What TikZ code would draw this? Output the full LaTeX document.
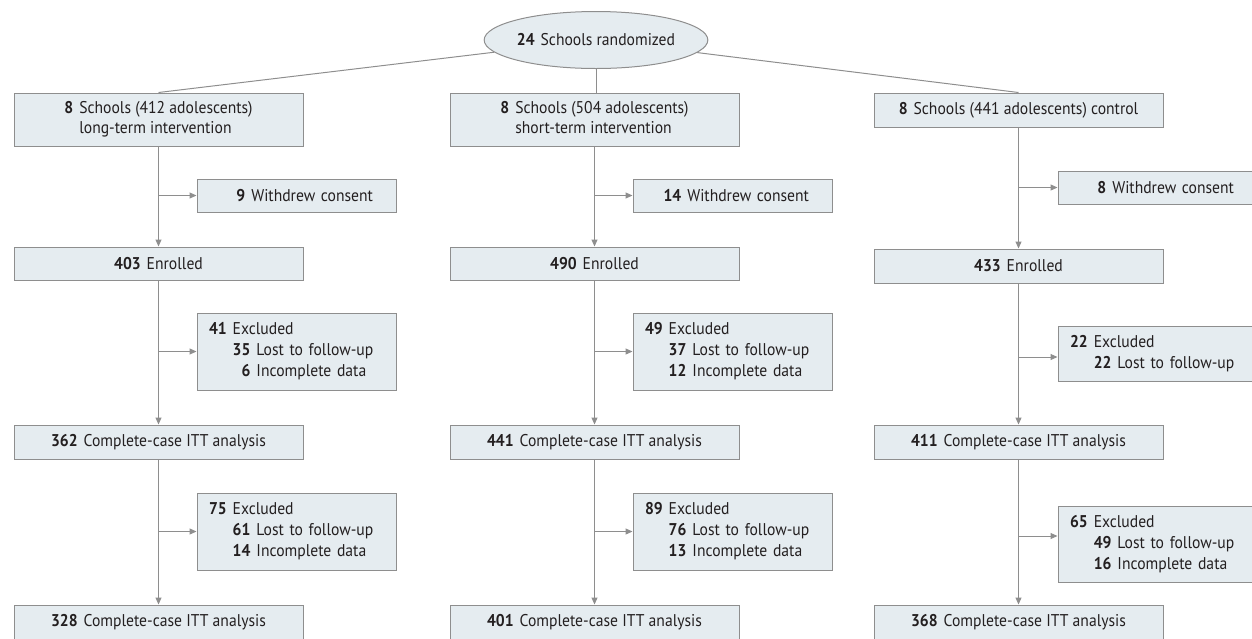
\documentclass[tikz,border=0pt]{standalone}
\usepackage{fontspec}
\setmainfont{PT Sans}[FakeStretch=0.92]
\usetikzlibrary{arrows.meta,shapes.geometric}
\definecolor{boxfill}{HTML}{E5ECF0}
\definecolor{boxline}{HTML}{8E8E8E}
\definecolor{txt}{HTML}{231F20}
\newcommand{\nm}[1]{\textbf{#1}\hspace{6pt}}
\newcommand{\twoline}[3]{\begin{tabular}{@{}r@{\hspace{6pt}}l@{}}\textbf{#1}&#2\\&#3\end{tabular}}
\tikzset{
  base/.style={draw=boxline, fill=boxfill, line width=1pt, text=txt, font=\fontsize{17}{19.5}\selectfont},
  mainbox/.style={base, rectangle, inner sep=0pt, minimum width=289pt, minimum height=34pt},
  exbox/.style={base, rectangle, inner ysep=0pt, inner xsep=12pt, text width=175pt, align=left, minimum height=77pt},
  wbox/.style={base, rectangle, inner ysep=0pt, inner xsep=23pt, text width=153pt, align=right, minimum height=33pt},
  ovalbox/.style={base, ellipse, inner sep=0pt, minimum width=204pt, minimum height=57pt},
  conn/.style={draw=boxline, line width=1pt},
  arr/.style={conn, -{Triangle[length=7pt,width=6pt]}}
}
\newcommand{\exc}[2]{\renewcommand{\arraystretch}{1.08}\begin{tabular}{@{}r@{\hspace{6pt}}r@{\hspace{6pt}}l@{}}\textbf{#1}&\multicolumn{2}{@{}l@{}}{Excluded}\\#2\end{tabular}}
\begin{document}
\begin{tikzpicture}[x=1pt,y=-1pt]
\clip (0,0) rectangle (1252,638);
% top
\node[ovalbox] (E) at (596,40) {\nm{24}Schools randomized};
% left column
\node[mainbox, minimum height=53pt] (L1) at (158.5,119.5) {\twoline{8}{Schools (412 adolescents)}{long-term intervention}};
\node[wbox] (LW) at (296.5,195.5) {\nm{9}Withdrew consent};
\node[mainbox, minimum height=33pt] (L2) at (158.5,263.5) {\nm{403}Enrolled};
\node[exbox] (LX1) at (296.5,351.5) {\exc{41}{&\textbf{35}&Lost to follow-up\\&\textbf{6}&Incomplete data}};
\node[mainbox] (L3) at (158.5,442) {\nm{362}Complete-case ITT analysis};
\node[exbox] (LX2) at (296.5,531.5) {\exc{75}{&\textbf{61}&Lost to follow-up\\&\textbf{14}&Incomplete data}};
\node[mainbox] (L4) at (158.5,622) {\nm{328}Complete-case ITT analysis};
% center column
\node[mainbox, minimum height=53pt] (C1) at (594.5,119.5) {\twoline{8}{Schools (504 adolescents)}{short-term intervention}};
\node[wbox] (CW) at (732.5,195.5) {\nm{14}Withdrew consent};
\node[mainbox, minimum height=33pt] (C2) at (594.5,263.5) {\nm{490}Enrolled};
\node[exbox] (CX1) at (732.5,351.5) {\exc{49}{&\textbf{37}&Lost to follow-up\\&\textbf{12}&Incomplete data}};
\node[mainbox] (C3) at (594.5,442) {\nm{441}Complete-case ITT analysis};
\node[exbox] (CX2) at (732.5,531.5) {\exc{89}{&\textbf{76}&Lost to follow-up\\&\textbf{13}&Incomplete data}};
\node[mainbox] (C4) at (594.5,622) {\nm{401}Complete-case ITT analysis};
% right column
\node[mainbox] (R1) at (1018.5,110) {\nm{8}Schools (441 adolescents) control};
\node[wbox] (RW) at (1157.5,187.5) {\nm{8}Withdrew consent};
\node[mainbox] (R2) at (1018.5,266) {\nm{433}Enrolled};
\node[exbox, minimum height=55pt] (RX1) at (1157.5,353.5) {\exc{22}{&\textbf{22}&Lost to follow-up}};
\node[mainbox] (R3) at (1018.5,442) {\nm{411}Complete-case ITT analysis};
\node[exbox, minimum height=76pt] (RX2) at (1157.5,544) {\exc{65}{&\textbf{49}&Lost to follow-up\\&\textbf{16}&Incomplete data}};
\node[mainbox] (R4) at (1018.5,622) {\nm{368}Complete-case ITT analysis};
\coordinate (rb1) at (1018.5,357);
\coordinate (rb2) at (1018.5,536);
% connectors from randomization
\draw[conn] (E) -- (L1.north);
\draw[conn] (E) -- (R1.north);
\draw[conn] (E.south) -- (E.south |- C1.north);
% vertical arrows
\foreach \c in {L,C,R}{
  \draw[arr] (\c1) -- (\c2);
  \draw[arr] (\c2) -- (\c3);
  \draw[arr] (\c3) -- (\c4);
}
% side branches
\draw[arr] (L1.south |- LW) -- (LW.west);
\draw[arr] (L2.south |- LX1) -- (LX1.west);
\draw[arr] (L3.south |- LX2) -- (LX2.west);
\draw[arr] (C1.south |- CW) -- (CW.west);
\draw[arr] (C2.south |- CX1) -- (CX1.west);
\draw[arr] (C3.south |- CX2) -- (CX2.west);
\draw[arr] (R1.south |- RW) -- (RW.west);
\draw[arr] (rb1) -- (rb1 -| RX1.west);
\draw[arr] (rb2) -- (rb2 -| RX2.west);
\end{tikzpicture}
\end{document}
